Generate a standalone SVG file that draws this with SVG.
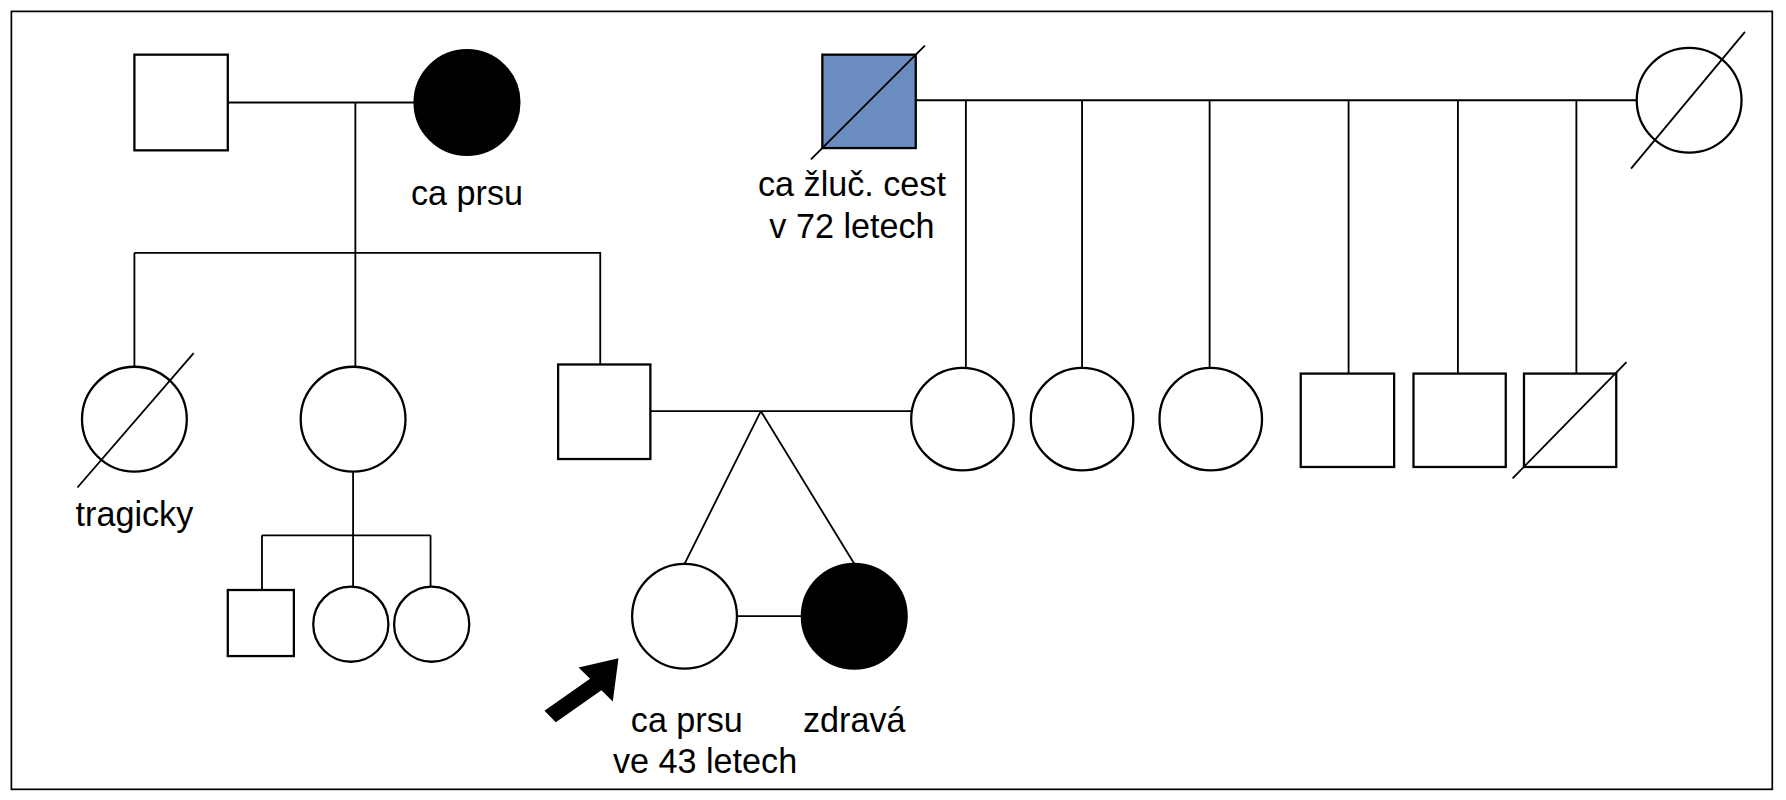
<svg xmlns="http://www.w3.org/2000/svg" width="1786" height="800" viewBox="0 0 1786 800">
<style>
.s{fill:#fff;stroke:#000;stroke-width:2}
.f{fill:#000;stroke:#000;stroke-width:2}
.b{fill:#6b8cbf;stroke:#000;stroke-width:2}
.l{stroke:#000;stroke-width:1.6;fill:none}
text{font-family:"Myriad Pro","Liberation Sans",Arial,sans-serif;font-size:30px;text-anchor:middle;fill:#000}
</style>
<rect width="1786" height="800" fill="#fff"/>
<g transform="scale(1.139)">
<rect x="10" y="10" width="1546" height="683" fill="none" stroke="#000" stroke-width="1.5"/>
<g id="connectors" class="l">
<path d="M200 90H364M312 90V322M118 222H527V320M118 222V322"/>
<path d="M310 414V518M230 470H378M230 470V518M310 470V515M378 470V515"/>
<path d="M571 361H800M668 361L601 495M668 361L750 495M647 541H704"/>
<path d="M804 88H1437M848 88V323M950 88V323M1062 88V323M1184 88V328M1280 88V328M1384 88V328"/>
</g>
<g id="n1"><rect class="s" x="118" y="48" width="82" height="84"/></g>
<g id="n2"><ellipse class="f" cx="410" cy="90" rx="46" ry="46"/><text x="410" y="180">ca prsu</text></g>
<g id="n3"><rect class="b" x="722" y="48" width="82" height="82"/><path class="l" d="M712 140L812 40"/><text x="748" y="172">ca žluč. cest</text><text x="748" y="209">v 72 letech</text></g>
<g id="n4"><circle class="s" cx="1483" cy="88" r="46"/><path class="l" d="M1432 148L1532 28"/></g>
<g id="n5"><circle class="s" cx="118" cy="368" r="46"/><path class="l" d="M68 428L170 310"/><text x="118" y="462">tragicky</text></g>
<g id="n6"><circle class="s" cx="310" cy="368" r="46"/></g>
<g id="n7"><rect class="s" x="490" y="320" width="81" height="83"/></g>
<g id="n8"><rect class="s" x="200" y="518" width="58" height="58"/></g>
<g id="n9"><circle class="s" cx="308" cy="548" r="33"/></g>
<g id="n10"><circle class="s" cx="379" cy="548" r="33"/></g>
<g id="n11"><circle class="s" cx="601" cy="541" r="46"/><text x="603" y="643">ca prsu</text><text x="619" y="679">ve 43 letech</text></g>
<g id="n12"><circle class="f" cx="750" cy="541" r="46"/><text x="750" y="643">zdravá</text></g>
<g id="arrow"><path d="M543 578L508 586L518 596L478 624L488 634L528 606L538 616Z" fill="#000"/></g>
<g id="n13"><circle class="s" cx="845" cy="368" r="45"/></g>
<g id="n14"><circle class="s" cx="950" cy="368" r="45"/></g>
<g id="n15"><circle class="s" cx="1063" cy="368" r="45"/></g>
<g id="n16"><rect class="s" x="1142" y="328" width="82" height="82"/></g>
<g id="n17"><rect class="s" x="1241" y="328" width="81" height="82"/></g>
<g id="n18"><rect class="s" x="1338" y="328" width="81" height="82"/><path class="l" d="M1328 420L1428 318"/></g>
</g>
</svg>
